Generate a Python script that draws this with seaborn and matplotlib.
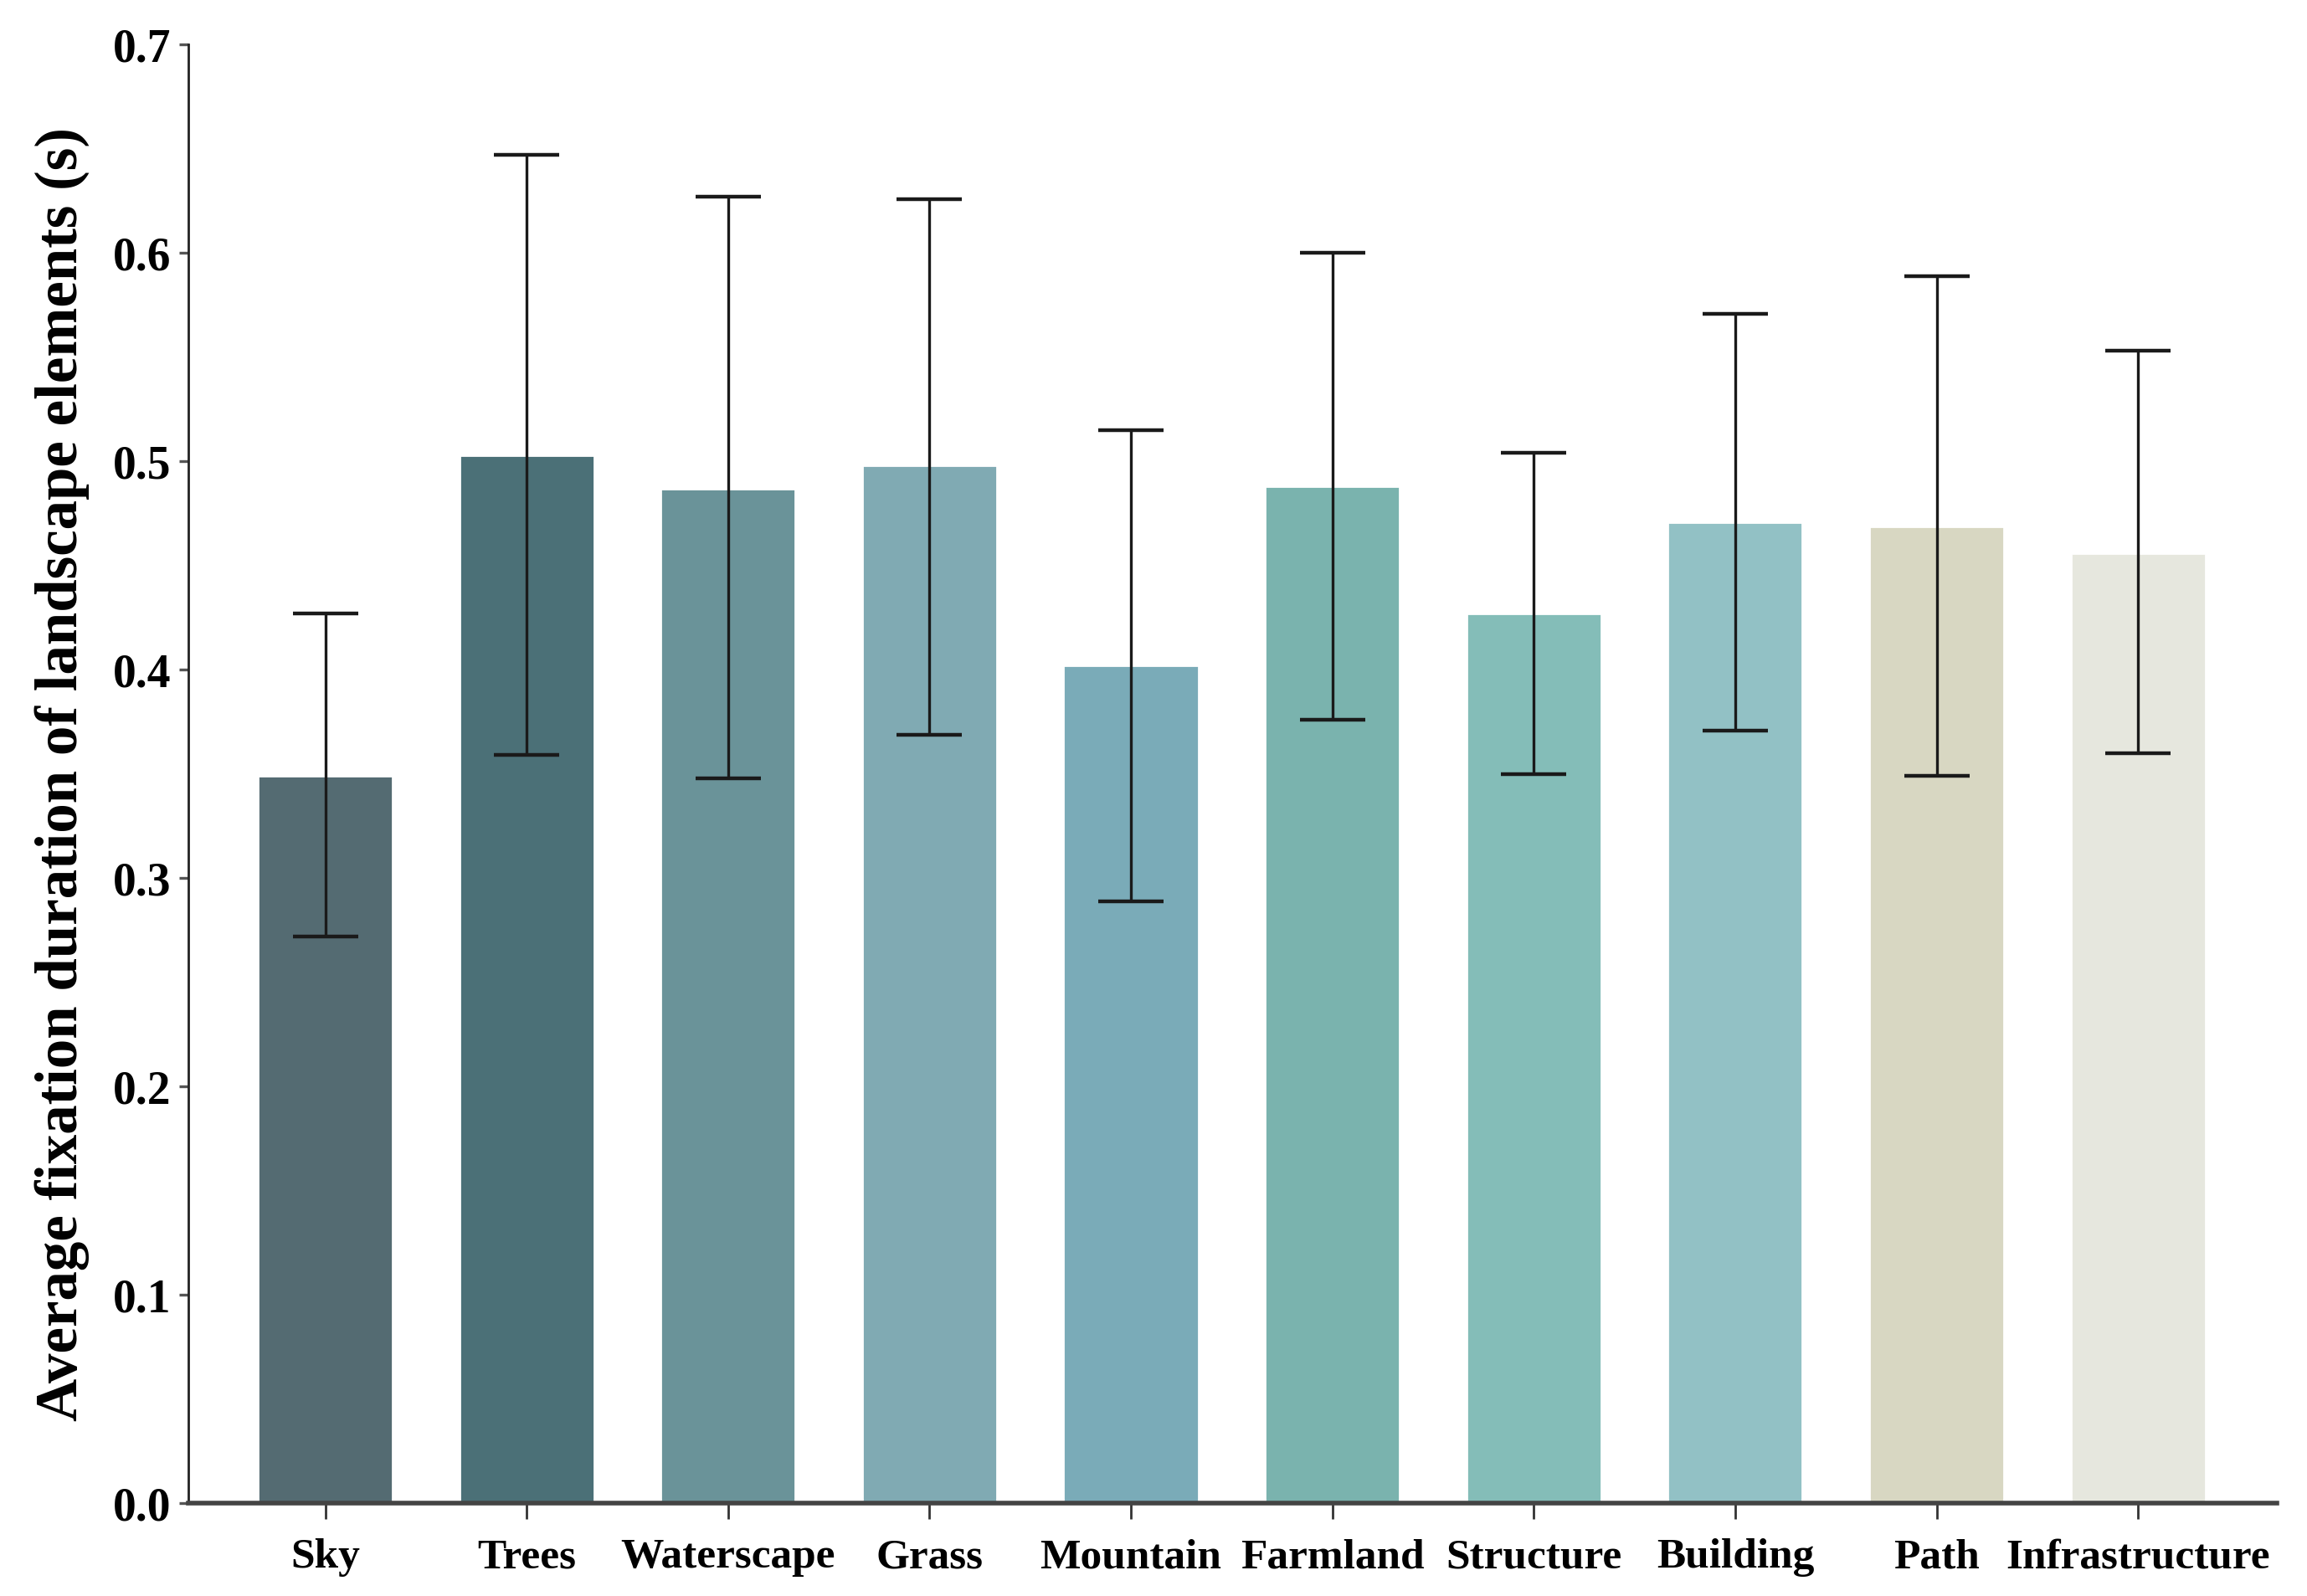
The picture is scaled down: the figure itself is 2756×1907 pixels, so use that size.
import matplotlib
matplotlib.use("Agg")
import matplotlib.pyplot as plt
import numpy as np
import pandas as pd
import seaborn as sns

categories = ["Sky", "Trees", "Waterscape", "Grass", "Mountain", "Farmland",
              "Structure", "Building", "Path", "Infrastructure"]
means = [0.349, 0.503, 0.487, 0.498, 0.402, 0.488, 0.427, 0.471, 0.469, 0.456]
err_low = [0.272, 0.359, 0.348, 0.369, 0.289, 0.376, 0.350, 0.371, 0.349, 0.360]
err_high = [0.427, 0.647, 0.627, 0.626, 0.515, 0.600, 0.504, 0.571, 0.589, 0.553]
colors = ["#546b72", "#4b7077", "#6a9399", "#80aab3", "#7aabb8",
          "#7ab3ae", "#84bdb8", "#92c1c5", "#d8d7c2", "#e6e7de"]

sns.set_style("ticks")
plt.rcParams['font.family'] = ['Liberation Serif', 'DejaVu Serif']
plt.rcParams['font.weight'] = 'bold'
plt.rcParams['text.color'] = 'black'
plt.rcParams['axes.labelcolor'] = 'black'
plt.rcParams['xtick.labelcolor'] = 'black'
plt.rcParams['ytick.labelcolor'] = 'black'

df = pd.DataFrame({"element": categories, "duration": means})

fig = plt.figure(figsize=(13.78, 9.535), dpi=200)
ax = fig.add_axes([0.0816, 0.058, 0.9054, 0.914])

sns.barplot(data=df, x="element", y="duration", hue="element",
            palette=colors, order=categories, hue_order=categories,
            width=0.67, errorbar=None, legend=False, saturation=1, ax=ax)

# asymmetric error bars, read as lower / upper ends
x = np.arange(len(categories))
m = np.array(means)
yerr = np.vstack([m - np.array(err_low), np.array(err_high) - m])
ax.errorbar(x, m, yerr=yerr, fmt="none", ecolor="#1a1a1a",
            elinewidth=1.2, capsize=14, capthick=1.6)

ax.set_xlim(-0.68, 9.69)
ax.set_ylim(0, 0.7)
ax.set_yticks(np.arange(0, 0.71, 0.1))
ax.set_yticklabels([f"{v:.1f}" for v in np.arange(0, 0.71, 0.1)])

ax.set_xlabel("")
ax.set_ylabel("Average fixation duration of landscape elements (s)",
              fontsize=25.5, fontweight="bold", labelpad=10)

ax.tick_params(axis="x", labelsize=18.5, length=7, width=1, color="#333333",
               pad=8, labelcolor="black")
ax.tick_params(axis="y", labelsize=20, length=4, width=1.2, color="#555555",
               labelcolor="black")
for lab in ax.get_xticklabels() + ax.get_yticklabels():
    lab.set_fontweight("bold")

sns.despine(ax=ax)
ax.spines["left"].set_linewidth(1.0)
ax.spines["left"].set_color("#222222")
ax.spines["bottom"].set_linewidth(2.0)
ax.spines["bottom"].set_color("#444444")

fig.savefig("out.png", dpi=200)
